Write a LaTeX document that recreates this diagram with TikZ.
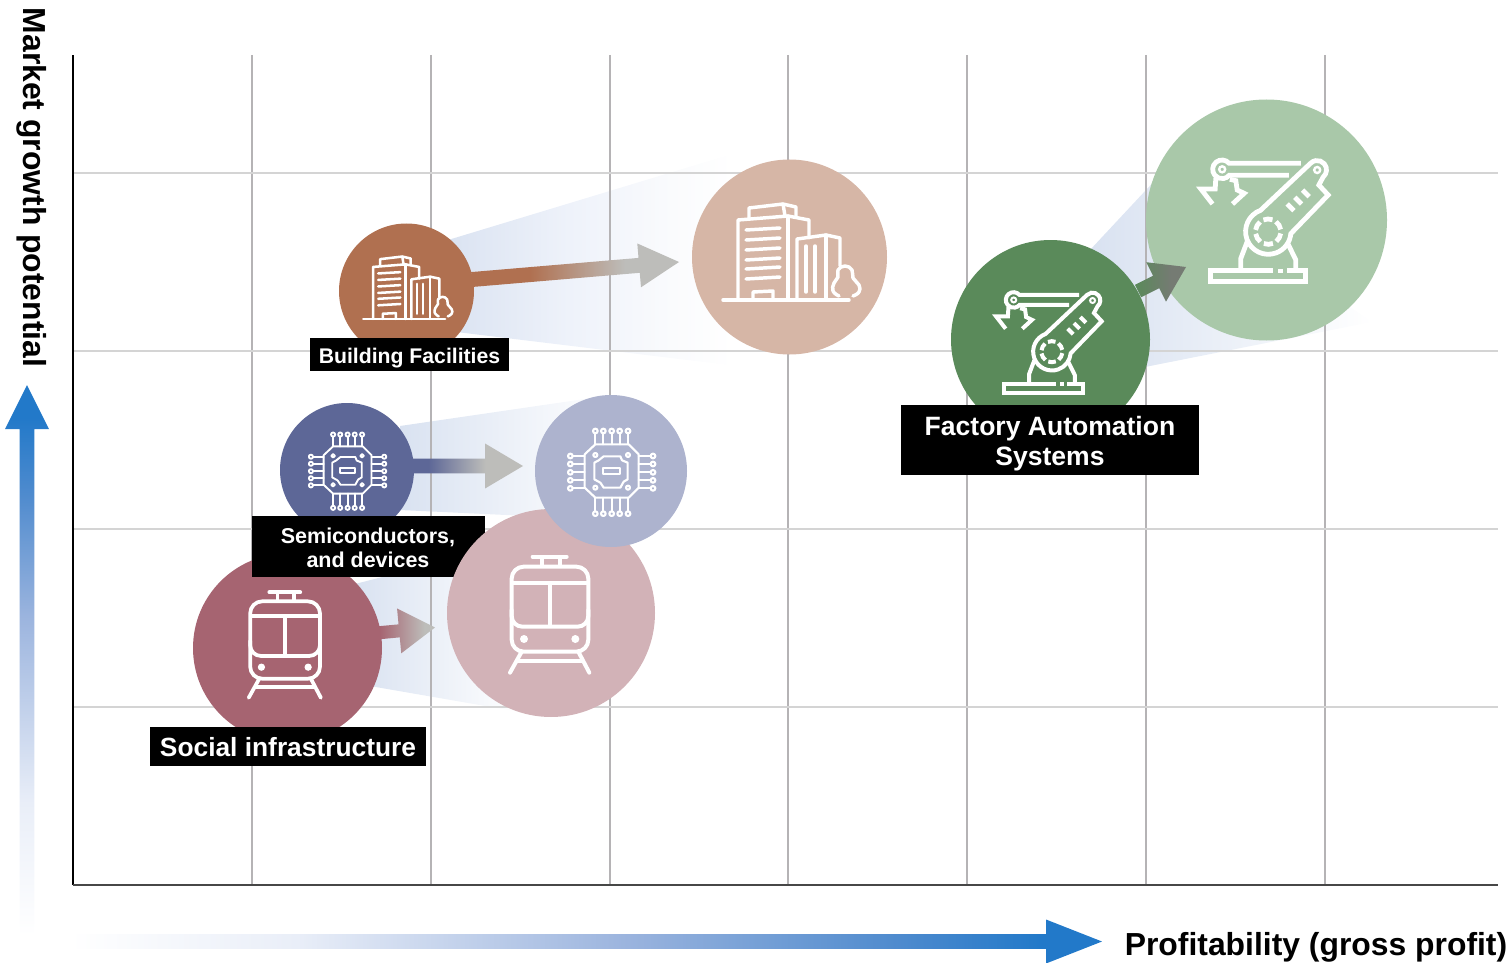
\documentclass[tikz,border=0pt]{standalone}
\usepackage{fontspec}
\setmainfont{Liberation Sans}
\usetikzlibrary{calc}
\definecolor{brownD}{HTML}{B07050}\definecolor{brownL}{HTML}{D6B6A6}
\definecolor{navyD}{HTML}{5D6797}\definecolor{navyL}{HTML}{ADB3CE}
\definecolor{wineD}{HTML}{A66471}\definecolor{wineL}{HTML}{D2B2B7}
\definecolor{greenD}{HTML}{5A8A5A}\definecolor{greenL}{HTML}{A9C8A9}
\definecolor{arrgray}{HTML}{BDBDBA}\definecolor{arrdark}{HTML}{757B73}
\definecolor{coneblue}{HTML}{D9E2F1}\definecolor{cone2}{HTML}{EEF2FA}\definecolor{cone3}{HTML}{FAFBFD}
\definecolor{gridV}{HTML}{B5B3B5}\definecolor{gridH}{HTML}{D4D4D4}
\definecolor{ax1}{HTML}{E9EEF8}\definecolor{ax2}{HTML}{9BB4DE}\definecolor{ax3}{HTML}{4F8BCE}\definecolor{ax4}{HTML}{2279C9}
\pgfdeclareverticalshading{axisV}{100bp}{color(0bp)=(white);color(25bp)=(white);color(37bp)=(ax1);color(54bp)=(ax2);color(65bp)=(ax3);color(72bp)=(ax4);color(100bp)=(ax4)}
\pgfdeclarehorizontalshading{axisH}{100bp}{color(0bp)=(white);color(25bp)=(white);color(36bp)=(ax1);color(52bp)=(ax2);color(65bp)=(ax3);color(72bp)=(ax4);color(100bp)=(ax4)}
\pgfdeclarehorizontalshading{coneB}{100bp}{color(0bp)=(coneblue);color(25bp)=(coneblue);color(46bp)=(cone2);color(63bp)=(cone3);color(73bp)=(white);color(100bp)=(white)}
\pgfdeclarehorizontalshading{arrB}{100bp}{color(0bp)=(brownD);color(39bp)=(brownD);color(62bp)=(arrgray);color(100bp)=(arrgray)}
\pgfdeclarehorizontalshading{arrN}{100bp}{color(0bp)=(navyD);color(32bp)=(navyD);color(58bp)=(arrgray);color(100bp)=(arrgray)}
\pgfdeclarehorizontalshading{arrW}{100bp}{color(0bp)=(wineD);color(32bp)=(wineD);color(67bp)=(arrgray);color(100bp)=(arrgray)}
\pgfdeclarehorizontalshading{arrG}{100bp}{color(0bp)=(greenD);color(25bp)=(greenD);color(60bp)=(arrdark);color(100bp)=(arrdark)}
\tikzset{
 bubble/.style 2 args={circle,fill=#1,minimum size=#2*0.75pt,inner sep=0pt,outer sep=0pt},
 tag/.style 2 args={fill=black,inner sep=0pt,minimum width=#1*0.75pt,minimum height=#2*0.75pt},
 tagtext/.style 2 args={text=white,inner sep=0pt,align=center,font=\bfseries\fontsize{#1}{#2}\selectfont},
 axistext/.style={inner sep=0pt,font=\bfseries\fontsize{#1}{#1}\selectfont},
 gridv/.style={draw=gridV,line width=1.4pt},
 gridh/.style={draw=gridH,line width=1.4pt},
 icon/.style={draw=white,line width=#1,line cap=butt,line join=miter},
 iconr/.style={draw=white,line width=#1,line cap=round,line join=round},
}
% shading, from, to, half shaft, head length, half head
\newcommand{\blockarrow}[6]{%
 \coordinate (hb) at ($(#3)!#5!(#2)$);
 \shade[shading=#1] ($(#2)!#4!90:(#3)$) -- ($(hb)!#4!90:(#3)$) -- ($(hb)!#6!90:(#3)$) -- (#3) -- ($(hb)!#6!-90:(#3)$) -- ($(hb)!#4!-90:(#3)$) -- ($(#2)!#4!-90:(#3)$) -- cycle;}
\newcommand{\buildingicon}[3]{%
 \begin{scope}[shift={(#1)},scale=#2,shift={(-789.5,-257)}]
 \draw[iconr=#3] (723,300) -- (849,300);
 \draw[iconr=#3] (738,300) -- (738,220) -- (788,216) -- (809,220) -- (809,238);
 \draw[iconr=#3] (788,216) -- (788,300);
 \draw[iconr=#3] (749,218) -- (749,208) -- (783,204) -- (796,207) -- (796,217);
 \draw[iconr=#3] (783,204) -- (785,216);
 \foreach \y in {229,239,249,259,268,278}{\draw[iconr=#3] (746,\y+1) -- (780,\y-1);}
 \draw[iconr=#3] (753,300) -- (753,292) -- (773,291) -- (773,300);
 \draw[iconr=#3] (797,300) -- (797,239) -- (826,235) -- (840,238) -- (840,266);
 \draw[iconr=#3] (826,235) -- (826,300);
 \draw[iconr=#3] (806,246) -- (806,292);
 \draw[iconr=#3] (815,246) -- (815,292);
 \draw[iconr=#3] plot[smooth,tension=.8] coordinates {(839,296)(833,291)(834,283)(838,277)(838,270)(845,266)(852,270)(853,278)(859,285)(859,292)(853,296)};
 \end{scope}}
\newcommand{\roboticon}[3]{%
 \begin{scope}[shift={(#1)},scale=#2/3,shift={(-980,-390)}]
 \draw[icon=#3] (1000,541) -- (811,541) -- (811,574) -- (1097,574) -- (1097,541) -- (1040,541);
 \draw[icon=#3] (1015,543) -- (1030,543);
 \draw[icon=#3] (903,535) -- (903,505) -- (922,455);
 \draw[icon=#3] (1068,535) -- (1068,510) -- (1045,463);
 \draw[icon=#3] (962,361) arc[start angle=250,end angle=5,radius=68] -- (1165,315) -- (1137,285) -- (1150,261) arc[start angle=50,end angle=-135,radius=28] -- cycle;
 \foreach \a in {0,60,...,300}{\draw[icon=#3] ([shift={(985,425)}]{\a+8}:38) arc[start angle=\a+8,end angle=\a+50,radius=38];}
 \draw[icon=#3] (1042,342) -- (1062,362);
 \draw[icon=#3] (1065,322) -- (1085,342);
 \draw[icon=#3] (1088,300) -- (1108,320);
 \draw[icon=0.5*#3] (1132,240) circle[radius=9];
 \draw[icon=#3] (1083,220) -- (868,220) arc[start angle=-40,end angle=-320,radius=28] -- (1047,256);
 \draw[icon=0.5*#3] (847,238) circle[radius=9];
 \draw[icon=#3] (828,264) -- (826,297) -- (783,297) -- (818,342);
 \draw[icon=#3] (870,268) -- (888,272) -- (892,300) -- (913,310) -- (878,342);
 \end{scope}}
\newcommand{\trainicon}[3]{%
 \begin{scope}[shift={(#1)},scale=#2/3,shift={(-1113,-249)}]
 \draw[iconr=#3,rounded corners=9pt] (995,110) rectangle (1225,365);
 \draw[icon=#3] (995,158) -- (1225,158);
 \draw[iconr=#3,rounded corners=8pt] (995,240) -- (995,290) -- (1225,290) -- (1225,240);
 \draw[icon=#3] (1110,158) -- (1110,290);
 \draw[iconr=#3] (1058,80) -- (1160,80);
 \draw[icon=#3] (1085,80) -- (1085,110);
 \draw[icon=#3] (1140,80) -- (1140,110);
 \fill[white] (1032,327) circle[radius=12];
 \fill[white] (1186,327) circle[radius=12];
 \draw[iconr=#3] (1025,365) -- (990,428);
 \draw[iconr=#3] (1195,365) -- (1228,428);
 \draw[icon=#3] (1012,393) -- (1208,393);
 \end{scope}}
\newcommand{\chipicon}[3]{%
 \begin{scope}[shift={(#1)},scale=#2/3,shift={(-1022,-240)}]
 \draw[iconr=#3] (975,160) -- (1075,160) -- (1105,190) -- (1105,290) -- (1075,320) -- (975,320) -- (943,290) -- (943,190) -- cycle;
 \foreach \x in {975,999,1024,1048,1073}{
  \draw[iconr=#3] (\x,160) -- (\x,128);
  \draw[iconr=#3] (\x,120) circle[radius=7];
  \draw[iconr=#3] (\x,320) -- (\x,360);
  \draw[iconr=#3] (\x,368) circle[radius=7];}
 \foreach \y in {195,219,244,268,292}{
  \draw[iconr=#3] (943,\y) -- (908,\y);
  \draw[iconr=#3] (900,\y) circle[radius=7];
  \draw[iconr=#3] (1105,\y) -- (1140,\y);
  \draw[iconr=#3] (1148,\y) circle[radius=7];}
 \foreach \x/\y in {975/192,1073/192,975/290,1073/290}{\draw[iconr=#3] (\x,\y) circle[radius=6];}
 \draw[iconr=#3] (1000,196) -- (1050,196) -- (1055,208) -- (1072,215) -- (1072,265) -- (1060,272) -- (1050,290) -- (1000,290) -- (990,275) -- (972,265) -- (972,215) -- (985,208) -- cycle;
 \draw[iconr=#3] (998,232) rectangle (1050,250);
 \end{scope}}
\begin{document}
\begin{tikzpicture}[x=0.75pt,y=-0.75pt]
\useasboundingbox (0,0) rectangle (1510,963);
% cones
\shade[shading=coneB] (448,240) -- (745,150) -- (745,367) -- (440,330) -- cycle;
\shade[left color=coneblue,right color=white] (400,426) -- (612,395) -- (612,520) -- (400,510) -- cycle;
\shade[left color=coneblue,right color=white] (355,584) -- (480,552) -- (520,712) -- (370,686) -- cycle;
\shade[left color=coneblue,right color=white] (1090,250) -- (1160,175) -- (1372,322) -- (1145,367) -- cycle;
% grid
\foreach \x in {252,431,610,788,967,1146,1325}{\draw[gridv] (\x,55) -- (\x,885);}
\foreach \y in {173,351,529,707}{\draw[gridh] (73,\y) -- (1498,\y);}
\coordinate (origin) at (73,885);
\coordinate (ytop) at (73,55);
\coordinate (xend) at (1498,885);
\draw[black,line width=1.5pt] (origin) -- (ytop);
\draw[black!72,line width=1.5pt] (origin) -- (xend);
% axis arrows
\coordinate (yfrom) at (27,935);\coordinate (yto) at (27,385);
\coordinate (xfrom) at (70,941.5);\coordinate (xto) at (1102,941.5);
\blockarrow{axisV}{yfrom}{yto}{5.5pt}{33pt}{16.5pt}
\blockarrow{axisH}{xfrom}{xto}{5.6pt}{42pt}{16.5pt}
\node[axistext=23.9pt,rotate=-90] (ytitle) at (32,187.5) {Market growth potential};
\node[axistext=23.9pt] (xtitle) at (1316,947) {Profitability (gross profit)};
% bubbles and labels, lowest first
\node[bubble={brownD}{135}] (bs) at (406.5,291) {};
\node[bubble={brownL}{195}] (bb) at (789.5,257) {};
\node[bubble={greenD}{199}] (rs) at (1050.5,339.5) {};
\node[bubble={greenL}{241}] (rb) at (1266.5,220) {};
\node[bubble={navyD}{134}] (cs) at (347,470) {};
\node[bubble={wineD}{189}] (ts) at (287.5,648) {};
\node[tag={233}{61}] (lc) at (368.5,546.5) {};
\node[tagtext={16.1pt}{18pt}] (lct) at (368,548) {Semiconductors,\\and devices};
\node[bubble={wineL}{208}] (tb) at (551,613) {};
\node[bubble={navyL}{152}] (cb) at (611,471) {};
\node[tag={199}{33}] (lb) at (409.5,354.5) {};
\node[tagtext={15.9pt}{18pt}] (lbt) at (409.5,358.5) {Building Facilities};
\node[tag={298}{70}] (lr) at (1050,440) {};
\node[tagtext={19.9pt}{22.5pt}] (lrt) at (1050,444) {Factory Automation\\Systems};
\node[tag={276}{39}] (lt) at (288,746.5) {};
\node[tagtext={19.75pt}{22pt}] (ltt) at (288,747.5) {Social infrastructure};
% growth arrows
\coordinate (a1) at (472,279.5);\coordinate (a2) at (679,262);
\coordinate (c1) at (413,466);\coordinate (c2) at (523,466);
\coordinate (t1) at (371,633.5);\coordinate (t2) at (435,627.5);
\coordinate (r1) at (1138,291);\coordinate (r2) at (1186,267);
\blockarrow{arrB}{a1}{a2}{5.6pt}{30pt}{16.5pt}
\blockarrow{arrN}{c1}{c2}{5.6pt}{28.5pt}{16.9pt}
\blockarrow{arrW}{t1}{t2}{4.9pt}{27pt}{16.9pt}
\blockarrow{arrG}{r1}{r2}{5.2pt}{25pt}{16.5pt}
% icons
\buildingicon{bb.center}{1}{2.6pt}
\buildingicon{bs.center}{0.65}{1.9pt}
\chipicon{cb.center}{1}{1.6pt}
\chipicon{cs.center}{0.887}{1.4pt}
\trainicon{tb.center}{1}{3pt}
\trainicon{$(ts.center)+(-1.5,-4.5)$}{0.91}{2.8pt}
\roboticon{rb.center}{1}{3.6pt}
\roboticon{$(rs.center)+(0,2.5)$}{0.83}{3pt}
\end{tikzpicture}
\end{document}
